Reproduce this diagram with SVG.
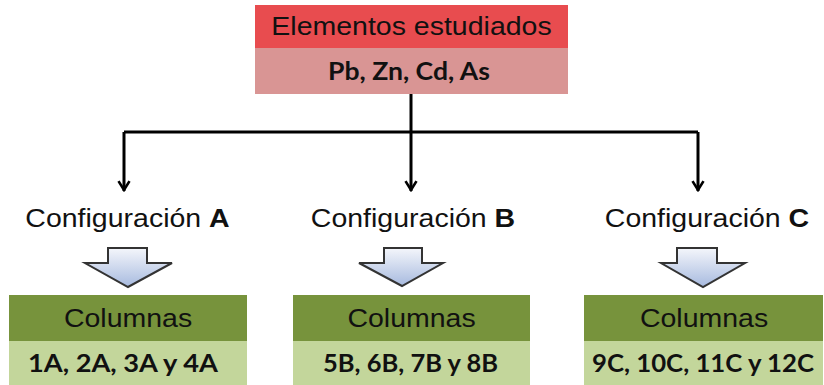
<svg xmlns="http://www.w3.org/2000/svg" width="824" height="385" viewBox="0 0 824 385">
<style>
.reg{font-family:"Liberation Sans",Arial,sans-serif;font-size:25px;fill:#111;text-anchor:middle}
.bld{font-family:Lato,"Open Sans",sans-serif;font-weight:bold;font-size:24px;fill:#111;text-anchor:middle}
.conn{stroke:#000;stroke-width:3;fill:none}
.blk{fill:url(#g);stroke:#333;stroke-width:2;stroke-linejoin:miter}
</style>
<defs>
<linearGradient id="g" x1="0" y1="0" x2="0" y2="1">
<stop offset="0" stop-color="#f4f6fb"/>
<stop offset="1" stop-color="#a7badf"/>
</linearGradient>
<marker id="ah" viewBox="0 0 12 12" refX="11" refY="6" markerWidth="4.4" markerHeight="4.4" orient="auto" markerUnits="strokeWidth">
<path d="M2,1 L10,6 L2,11" fill="none" stroke="#000" stroke-width="2.4"/>
</marker>
</defs>
<rect width="824" height="385" fill="#fff"/>
<g id="top">
<rect x="255" y="5" width="313" height="43" fill="#e84c4f"/>
<rect x="255" y="48" width="313" height="46" fill="#d99594"/>
<text class="reg" transform="translate(411.5,35) scale(1.14,1)">Elementos estudiados</text>
<text class="bld" x="409" y="80" textLength="162" lengthAdjust="spacingAndGlyphs">Pb, Zn, Cd, As</text>
</g>
<g id="connectors">
<path class="conn" d="M411,94 V191" marker-end="url(#ah)"/>
<path class="conn" d="M124,132 H698"/>
<path class="conn" d="M124,132 V191" marker-end="url(#ah)"/>
<path class="conn" d="M698,132 V191" marker-end="url(#ah)"/>
</g>
<g id="configA">
<text class="reg" transform="translate(127.5,227) scale(1.14,1)">Configuración <tspan font-weight="bold">A</tspan></text>
<path class="blk" d="M108,248 H147 V263 H172 L128,287 L85,263 H108 Z"/>
</g>
<g id="configB">
<text class="reg" transform="translate(413,227) scale(1.14,1)">Configuración <tspan font-weight="bold">B</tspan></text>
<path class="blk" d="M384,248 H422 V263 H443 L402,286 L359,263 H384 Z"/>
</g>
<g id="configC">
<text class="reg" transform="translate(707,227) scale(1.14,1)">Configuración <tspan font-weight="bold">C</tspan></text>
<path class="blk" d="M677,248 H717 V263 H745 L703,287 L661,263 H677 Z"/>
</g>
<g id="colA">
<rect x="9" y="295" width="238" height="46" fill="#77933c"/>
<rect x="9" y="341" width="238" height="44" fill="#c3d69b"/>
<text class="reg" transform="translate(128,327) scale(1.14,1)">Columnas</text>
<text class="bld" x="123" y="372" textLength="190" lengthAdjust="spacingAndGlyphs">1A, 2A, 3A y 4A</text>
</g>
<g id="colB">
<rect x="293" y="295" width="237" height="46" fill="#77933c"/>
<rect x="293" y="341" width="237" height="44" fill="#c3d69b"/>
<text class="reg" transform="translate(411.5,327) scale(1.14,1)">Columnas</text>
<text class="bld" x="410.5" y="372" textLength="175" lengthAdjust="spacingAndGlyphs">5B, 6B, 7B y 8B</text>
</g>
<g id="colC">
<rect x="584" y="295" width="239" height="46" fill="#77933c"/>
<rect x="584" y="341" width="239" height="44" fill="#c3d69b"/>
<text class="reg" transform="translate(704,327) scale(1.14,1)">Columnas</text>
<text class="bld" x="703" y="372" textLength="222" lengthAdjust="spacingAndGlyphs">9C, 10C, 11C y 12C</text>
</g>
</svg>
